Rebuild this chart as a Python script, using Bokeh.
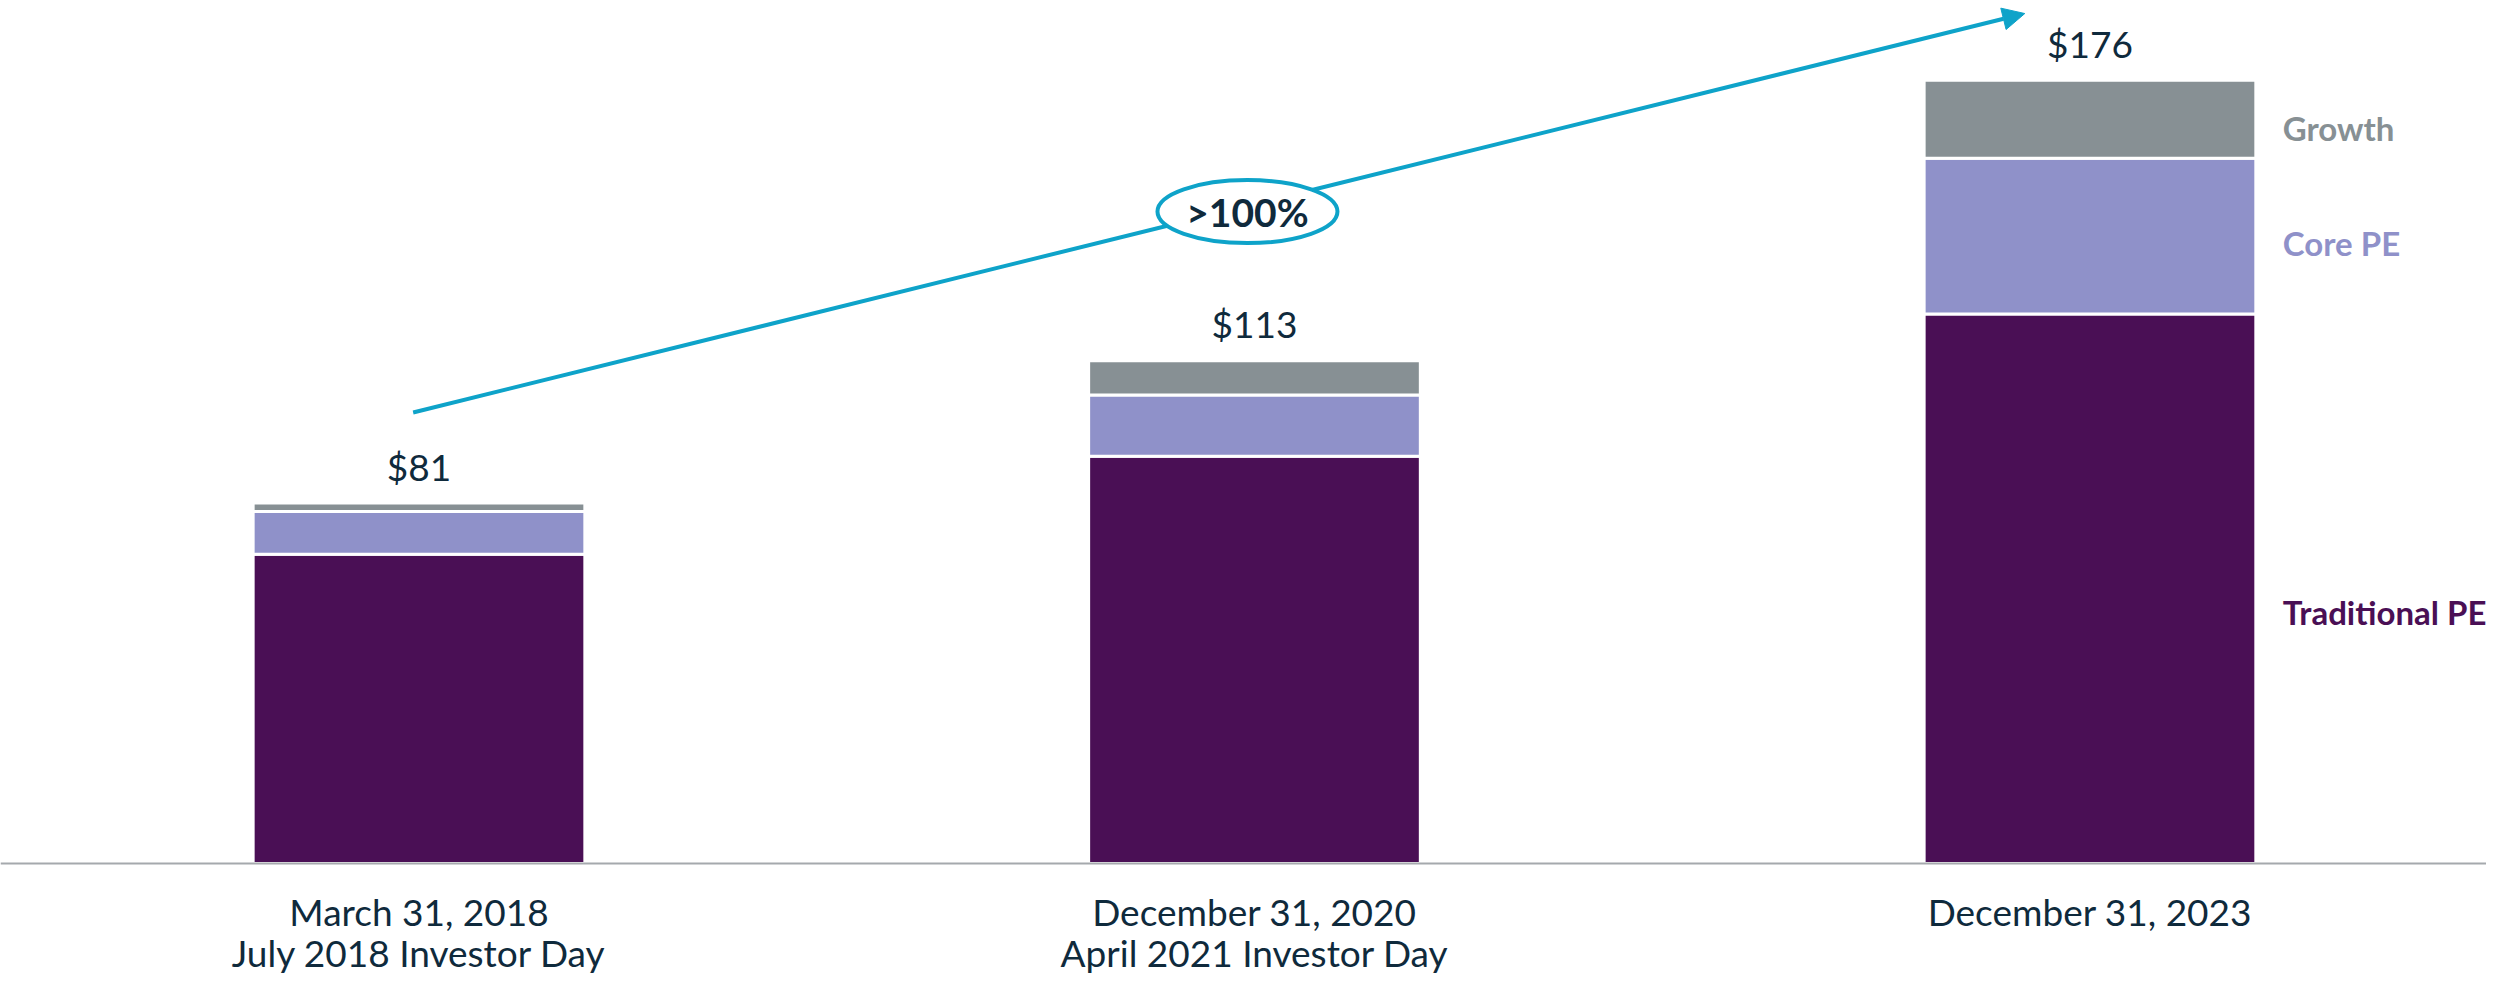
from bokeh.plotting import figure
from bokeh.models import Range1d, ColumnDataSource, Arrow, NormalHead, Span
from bokeh.core.properties import value
from bokeh.embed import file_html
from bokeh.resources import INLINE

# ---- data ----
categories = [
    "March 31, 2018\nJuly 2018 Investor Day",
    "December 31, 2020\nApril 2021 Investor Day",
    "December 31, 2023",
]
traditional_pe = [69.5, 91.5, 123.5]
core_pe = [9.6, 13.8, 35.0]
growth = [1.9, 7.7, 17.5]
totals = [81, 113, 176]
total_labels = ["$81", "$113", "$176"]
series_names = ["Traditional PE", "Core PE", "Growth"]
callout_text = ">100%"

# ---- style ----
colors = ["#4A0F55", "#8F91C9", "#879094"]
TEXT = "#0F2A3C"
CYAN = "#0EA3C9"
FONT = "Lato"
BAR_W = 0.397

x = list(range(len(categories)))
src = ColumnDataSource(dict(x=x, trad=traditional_pe, core=core_pe, growth=growth,
                            total=totals, label=total_labels))

p = figure(width=2486, height=975, output_backend="svg", toolbar_location=None,
           x_range=Range1d(-0.5009, 2.4746), y_range=Range1d(-25.17, 193.93),
           min_border_left=0, min_border_right=0, min_border_top=0, min_border_bottom=0)
p.background_fill_color = "white"
p.border_fill_color = "white"
p.outline_line_color = None
p.grid.visible = False
p.xaxis.visible = False
p.yaxis.visible = False

p.vbar_stack(["trad", "core", "growth"], x="x", width=BAR_W, fill_color=colors,
             line_color="white", line_width=3, source=src)

# baseline
p.add_layout(Span(location=0, dimension="width", line_color="#A5A9AD", line_width=2))

# total labels
p.text(x="x", y="total", text="label", source=src, text_align="center",
       text_baseline="middle", y_offset=-37, text_font=value(FONT),
       text_font_size="37px", text_color=TEXT)

# category labels (two lines)
line1 = [c.split("\n")[0] for c in categories]
line2 = [c.split("\n")[1] if "\n" in c else "" for c in categories]
cat_src = ColumnDataSource(dict(x=x, y=[0] * len(x), l1=line1, l2=line2))
p.text(x="x", y="y", text="l1", source=cat_src, text_align="center",
       text_baseline="middle", y_offset=48, text_font=value(FONT),
       text_font_size="37px", text_color=TEXT)
p.text(x="x", y="y", text="l2", source=cat_src, text_align="center",
       text_baseline="middle", y_offset=89, text_font=value(FONT),
       text_font_size="37px", text_color=TEXT)

# series labels beside the last bar
last = len(categories) - 1
segs = [traditional_pe[last], core_pe[last], growth[last]]
mids = []
acc = 0
for s in segs:
    mids.append(acc + s / 2)
    acc += s
nudge = [23, 7, 9]
lab_src = ColumnDataSource(dict(x=[last + BAR_W / 2] * 3, y=mids, text=series_names,
                                color=colors, dy=nudge))
p.text(x="x", y="y", text="text", source=lab_src, text_color="color",
       text_align="left", text_baseline="middle", x_offset=27, y_offset="dy",
       text_font=value(FONT), text_font_style="bold", text_font_size="33px")

# growth arrow
a_x0, a_y0 = -0.007, 101.35
a_x1, a_y1 = 1.922, 191.0
p.add_layout(Arrow(x_start=a_x0, y_start=a_y0, x_end=a_x1, y_end=a_y1,
                   line_color=CYAN, line_width=4,
                   end=NormalHead(size=22, fill_color=CYAN, line_color=CYAN)))
ex, ey = 0.9916, 146.5
e = p.ellipse(x=[ex], y=[ey], width=180, height=63, width_units="screen",
              height_units="screen", fill_color="white", line_color=CYAN, line_width=4)
e.level = "overlay"
tt = p.text(x=[ex], y=[ey], text=[callout_text], text_align="center", text_baseline="middle",
            text_font=value(FONT), text_font_style="bold", text_font_size="39px",
            text_color=TEXT)
tt.level = "overlay"

open("out.html", "w").write(file_html(p, INLINE))
